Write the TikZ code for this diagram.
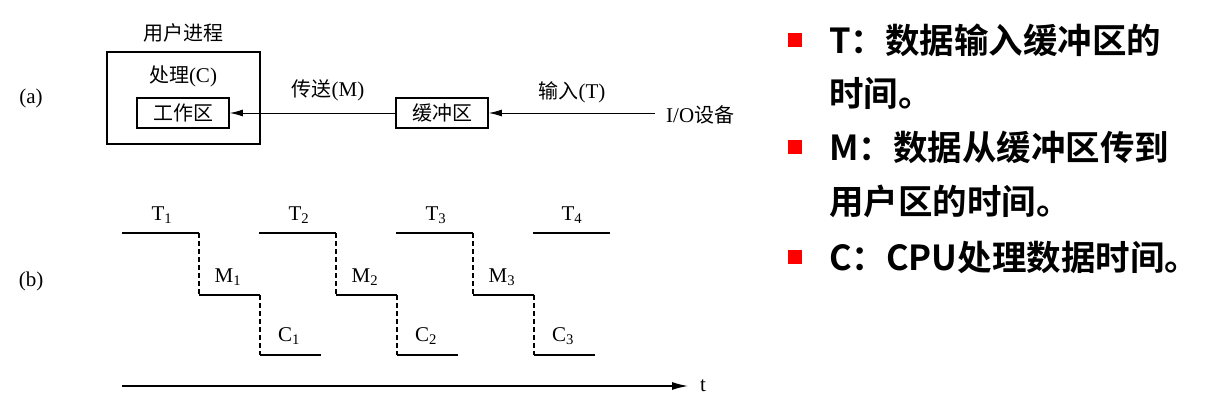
\documentclass[tikz,border=0pt]{standalone}
\usepackage{fontspec}
\setmainfont{Liberation Serif}
\newfontfamily\cjk{Noto Sans CJK SC}
\newfontfamily\cjkb{Noto Sans CJK SC Bold}
\usetikzlibrary{arrows.meta}
\tikzset{
  lbl/.style={font=\fontsize{21}{24}\selectfont, inner sep=0pt},
  boxn/.style={draw, line width=1.7pt, minimum height=30pt, inner sep=0pt, font=\fontsize{20}{24}\selectfont},
  lev/.style={line width=1.7pt},
  drop/.style={line width=1.7pt, dash pattern=on 5pt off 3pt},
  flow/.style={line width=0.9pt, -{Latex[length=13pt,width=7pt]}},
  bul/.style={fill=red, minimum size=14pt, inner sep=0pt},
  rtext/.style={anchor=west, inner sep=0pt, font=\fontsize{34.5}{40}\selectfont\cjkb}
}
\begin{document}
\begin{tikzpicture}[x=1pt,y=-1pt]
\useasboundingbox (0,0) rectangle (1228,409);
% (a)
\node[lbl] (la) at (31,98) {(a)};
\node[lbl] (up) at (183,33) {\cjk\fontsize{20}{24}\selectfont 用户进程};
\node[draw, line width=1.7pt, minimum width=153pt, minimum height=92pt, inner sep=0pt] (outer) at (183.5,98) {};
\node[lbl] (proc) at (183,76) {{\cjk\fontsize{20}{24}\selectfont 处理}(C)};
\node[boxn, minimum width=92pt] (work) at (183,113) {\cjk 工作区};
\node[boxn, minimum width=92pt] (buf) at (442,113) {\cjk 缓冲区};
\node[lbl, anchor=west] (io) at (666,115) {I/O{\cjk\fontsize{20}{24}\selectfont 设备}};
\coordinate (ioin) at (655,113);
\draw[flow] (ioin) -- (buf.east);
\draw[flow] (buf.west) -- (work.east);
\node[lbl] (lm) at (328,90) {{\cjk\fontsize{20}{24}\selectfont 传送}(M)};
\node[lbl] (lt) at (572,92) {{\cjk\fontsize{20}{24}\selectfont 输入}(T)};
% (b)
\node[lbl] (lb) at (31,281) {(b)};
\foreach \i/\x in {1/122,2/259,3/396}{
  \coordinate (t\i a) at (\x,233);
  \coordinate (t\i b) at (\x+77,233);
  \coordinate (m\i a) at (\x+77,295);
  \coordinate (m\i b) at (\x+138,295);
  \coordinate (c\i a) at (\x+138,355);
  \coordinate (c\i b) at (\x+199,355);
  \draw[lev] (t\i a) -- (t\i b);
  \draw[drop] (t\i b) -- (m\i a);
  \draw[lev] (m\i a) -- (m\i b);
  \draw[drop] (m\i b) -- (c\i a);
  \draw[lev] (c\i a) -- (c\i b);
  \node[lbl] (T\i) at (\x+40,215) {T\textsubscript{\i}};
  \node[lbl] (M\i) at (\x+106,277) {M\textsubscript{\i}};
  \node[lbl] (C\i) at (\x+167,336) {C\textsubscript{\i}};
}
\coordinate (t4a) at (533,233);
\coordinate (t4b) at (610,233);
\draw[lev] (t4a) -- (t4b);
\node[lbl] (T4) at (572,215) {T\textsubscript{4}};
\coordinate (ax0) at (122,386);
\node[lbl] (tt) at (703,386) {t};
\draw[line width=1.3pt, -{Latex[length=16pt,width=8pt]}] (ax0) -- (688,386);
% right text
\node[bul] (b1) at (795,40) {};
\node[bul] (b2) at (795,147) {};
\node[bul] (b3) at (795,257) {};
\node[rtext] (r1) at (829,40) {T：数据输入缓冲区的};
\node[rtext] (r2) at (829,93) {时间。};
\node[rtext] (r3) at (829,147) {M：数据从缓冲区传到};
\node[rtext] (r4) at (829,201) {用户区的时间。};
\node[rtext] (r5) at (829,257) {C：CPU处理数据时间。};
\end{tikzpicture}
\end{document}
